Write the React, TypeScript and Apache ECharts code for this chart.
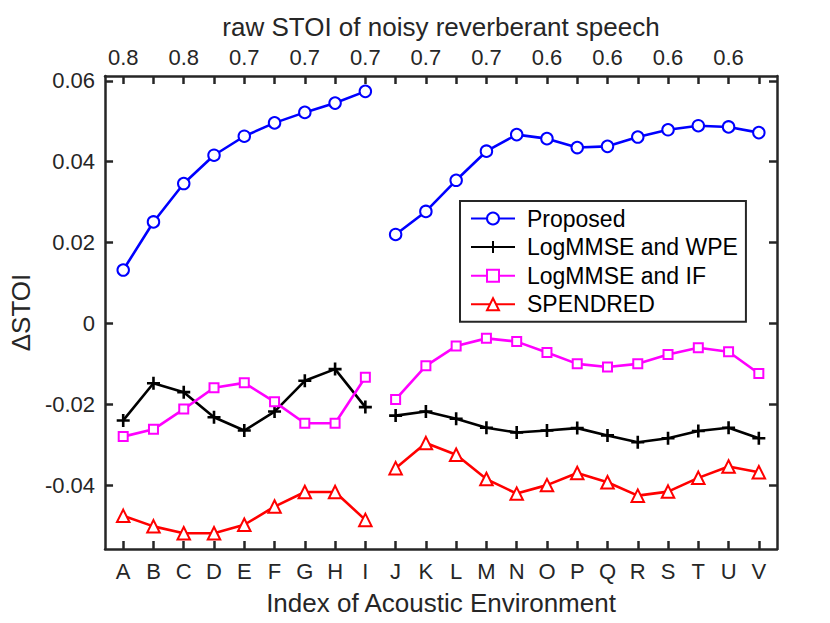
import React, { useEffect, useRef } from "react";
import * as echarts from "echarts";

const categories = ["A","B","C","D","E","F","G","H","I","J","K","L","M","N","O","P","Q","R","S","T","U","V"];
const topLabels = ["0.8","0.8","0.7","0.7","0.7","0.7","0.7","0.6","0.6","0.6","0.6"];
const yTicks = [-0.04, -0.02, 0, 0.02, 0.04, 0.06];
const yMin = -0.0558;
const yMax = 0.0612;
const gapAfter = 9; // line break between I and J

const proposed = [0.0132,0.0251,0.0346,0.0416,0.0463,0.0496,0.0522,0.0545,0.0574,0.0220,0.0277,0.0354,0.0426,0.0467,0.0457,0.0435,0.0438,0.0461,0.0479,0.0489,0.0486,0.0472];
const logmmseWpe = [-0.0240,-0.0148,-0.0170,-0.0232,-0.0265,-0.0218,-0.0142,-0.0113,-0.0207,-0.0228,-0.0218,-0.0236,-0.0258,-0.0270,-0.0265,-0.0259,-0.0277,-0.0294,-0.0284,-0.0266,-0.0258,-0.0284];
const logmmseIf = [-0.0280,-0.0262,-0.0212,-0.0159,-0.0147,-0.0194,-0.0247,-0.0247,-0.0133,-0.0188,-0.0105,-0.0056,-0.0037,-0.0045,-0.0072,-0.0100,-0.0108,-0.0100,-0.0077,-0.0060,-0.0070,-0.0124];
const spendred = [-0.0476,-0.0502,-0.0519,-0.0519,-0.0498,-0.0453,-0.0417,-0.0417,-0.0486,-0.0358,-0.0296,-0.0325,-0.0385,-0.0421,-0.0400,-0.0370,-0.0393,-0.0426,-0.0416,-0.0382,-0.0354,-0.0368];

const FONT = "Liberation Sans";
const AX = "#262626";

function toData(vals: number[]) {
  const out: any[] = [];
  vals.forEach((v, i) => {
    out.push([i + 1, v]);
    if (i + 1 === gapAfter) out.push([gapAfter + 0.5, "-"]);
  });
  return out;
}

const catPositions = categories.map((_, i) => i + 1);
const topPositions = topLabels.map((_, i) => 1 + i * 2);

export default function App() {
  const ref = useRef<HTMLDivElement>(null);
  useEffect(() => {
    if (!ref.current) return;
    const chart = echarts.init(ref.current, null, { renderer: "svg" });
    const axisLine = { show: true, onZero: false, lineStyle: { color: AX, width: 2.5 } };
    const tickStyle = { color: AX, width: 2.5 };
    const plus = "path://M5,0 L5,10 M0,5 L10,5";
    const series = [
      { name: "Proposed", vals: proposed, color: "#0000ff", symbol: "emptyCircle", size: 11.5 },
      { name: "LogMMSE and WPE", vals: logmmseWpe, color: "#000000", symbol: plus, size: 13 },
      { name: "LogMMSE and IF", vals: logmmseIf, color: "#ff00ff", symbol: "emptyRect", size: 9 },
      { name: "SPENDRED", vals: spendred, color: "#ff0000", symbol: "emptyTriangle", size: 12.5 },
    ].map((s) => ({
      type: "line",
      name: s.name,
      data: toData(s.vals),
      connectNulls: false,
      symbol: s.symbol,
      symbolSize: s.size,
      showAllSymbol: true,
      lineStyle: { color: s.color, width: 2.6 },
      itemStyle: { color: s.color, borderColor: s.color, borderWidth: 2.6 },
      emphasis: { disabled: true },
    }));
    chart.setOption({
      animation: false,
      textStyle: { fontFamily: FONT },
      grid: { left: 99, right: 53, top: 76, bottom: 74 },
      legend: {
        orient: "vertical",
        left: 460,
        top: 201,
        selectedMode: false,
        itemWidth: 44,
        itemHeight: 15,
        itemGap: 5.6,
        padding: [6, 8, 6, 10],
        backgroundColor: "#ffffff",
        borderColor: AX,
        borderWidth: 2,
        textStyle: { fontFamily: FONT, fontSize: 23, color: "#000", padding: [0, 0, 0, 7] },
        data: ["Proposed", "LogMMSE and WPE", "LogMMSE and IF", "SPENDRED"],
      },
      xAxis: [
        {
          type: "value",
          position: "bottom",
          min: 0.4,
          max: 22.6,
          name: "Index of Acoustic Environment",
          nameLocation: "middle",
          nameGap: 41,
          nameTextStyle: { fontFamily: FONT, fontSize: 26, color: AX },
          axisLine,
          splitLine: { show: false },
          axisTick: { inside: true, length: 8, lineStyle: tickStyle, customValues: catPositions },
          axisLabel: {
            fontFamily: FONT, fontSize: 22, color: AX, margin: 11,
            customValues: catPositions,
            formatter: (v: number) => categories[Math.round(v) - 1] ?? "",
          },
        },
        {
          type: "value",
          position: "top",
          min: 0.4,
          max: 22.6,
          name: "raw STOI of noisy reverberant speech",
          nameLocation: "middle",
          nameGap: 36,
          nameTextStyle: { fontFamily: FONT, fontSize: 26, color: AX },
          axisLine,
          splitLine: { show: false },
          axisTick: { inside: true, length: 8, lineStyle: tickStyle, customValues: catPositions },
          axisLabel: {
            fontFamily: FONT, fontSize: 22, color: AX, margin: 8,
            customValues: topPositions,
            formatter: (v: number) => topLabels[Math.round((v - 1) / 2)] ?? "",
          },
        },
      ],
      yAxis: [
        {
          type: "value",
          position: "left",
          min: yMin,
          max: yMax,
          name: "\u0394STOI",
          nameLocation: "middle",
          nameGap: 68,
          nameTextStyle: { fontFamily: FONT, fontSize: 26, color: AX },
          axisLine,
          splitLine: { show: false },
          axisTick: { inside: true, length: 8, lineStyle: tickStyle, customValues: yTicks },
          axisLabel: {
            fontFamily: FONT, fontSize: 22, color: AX, margin: 10,
            customValues: yTicks,
            formatter: (v: number) => (Math.abs(v) < 1e-9 ? "0" : v.toFixed(2)),
          },
        },
        {
          type: "value",
          position: "right",
          min: yMin,
          max: yMax,
          axisLine,
          splitLine: { show: false },
          axisTick: { inside: true, length: 8, lineStyle: tickStyle, customValues: yTicks },
          axisLabel: { show: false },
        },
      ],
      series,
    });
    return () => chart.dispose();
  }, []);
  return (
    <div
      ref={ref}
      style={{ position: "fixed", left: 0, top: 0, width: 830, height: 623, background: "#fff" }}
    />
  );
}
